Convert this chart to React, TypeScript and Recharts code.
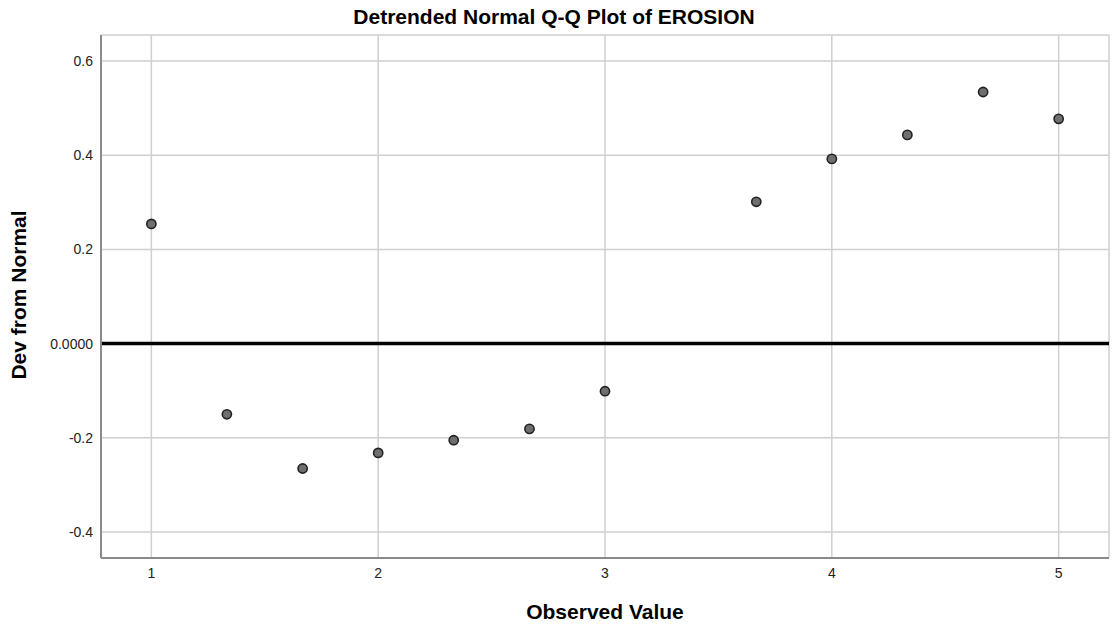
import {
  ScatterChart, Scatter, XAxis, YAxis, CartesianGrid, ReferenceLine, Label,
} from 'recharts'

const observed = [1, 1.333, 1.667, 2, 2.333, 2.667, 3, 3.667, 4, 4.333, 4.667, 5]
const devFromNormal = [0.254, -0.15, -0.265, -0.232, -0.205, -0.181, -0.101, 0.301, 0.392, 0.443, 0.534, 0.477]
const xTicks = [1, 2, 3, 4, 5]
const yTicks = [-0.4, -0.2, 0, 0.2, 0.4, 0.6]

const data = observed.map((x, i) => ({ x, y: devFromNormal[i] }))

const FONT = '"Liberation Sans", Arial, sans-serif'

function Dot(props: { cx?: number; cy?: number }) {
  const { cx, cy } = props
  if (cx == null || cy == null) return null
  return <circle cx={cx} cy={cy} r={4.6} fill="#6f6f6f" stroke="#222" strokeWidth={1.6} />
}

export default function App() {
  return (
    <div style={{ position: 'absolute', left: 0, top: 0, width: 1112, height: 628, background: '#fff', fontFamily: FONT }}>
      <div style={{
        position: 'absolute', top: 5, left: 0, width: 1108, textAlign: 'center',
        fontSize: 21, fontWeight: 'bold', color: '#000', whiteSpace: 'nowrap',
      }}>
        Detrended Normal Q-Q Plot of EROSION
      </div>
      <ScatterChart width={1112} height={628} margin={{ top: 35, right: 3, bottom: 40, left: 0 }}>
        <CartesianGrid stroke="#cfcfcf" strokeWidth={1.5} />
        <XAxis
          type="number"
          dataKey="x"
          domain={[0.778, 5.222]}
          ticks={xTicks}
          allowDataOverflow
          tickLine={false}
          tickSize={0}
          tickMargin={10}
          axisLine={{ stroke: '#8a8a8a', strokeWidth: 2 }}
          tick={{ fontSize: 14, fill: '#222', fontFamily: FONT }}
        >
          <Label
            content={() => (
              <text x={605} y={619} textAnchor="middle" fontSize={21} fontWeight="bold" fill="#000" fontFamily={FONT}>
                Observed Value
              </text>
            )}
          />
        </XAxis>
        <YAxis
          type="number"
          dataKey="y"
          width={101}
          domain={[-0.455, 0.655]}
          ticks={yTicks}
          allowDataOverflow
          tickLine={false}
          tickSize={0}
          tickMargin={8}
          axisLine={{ stroke: '#8a8a8a', strokeWidth: 2 }}
          tick={{ fontSize: 14, fill: '#222', fontFamily: FONT }}
          tickFormatter={(v: number) => (v === 0 ? '0.0000' : v.toFixed(1))}
        >
          <Label
            content={() => (
              <text x={26} y={295} transform="rotate(-90 26 295)" textAnchor="middle" fontSize={21} fontWeight="bold" fill="#000" fontFamily={FONT}>
                Dev from Normal
              </text>
            )}
          />
        </YAxis>
        <ReferenceLine y={0} stroke="#000" strokeWidth={3.5} />
        <Scatter data={data} shape={<Dot />} isAnimationActive={false} />
      </ScatterChart>
    </div>
  )
}
